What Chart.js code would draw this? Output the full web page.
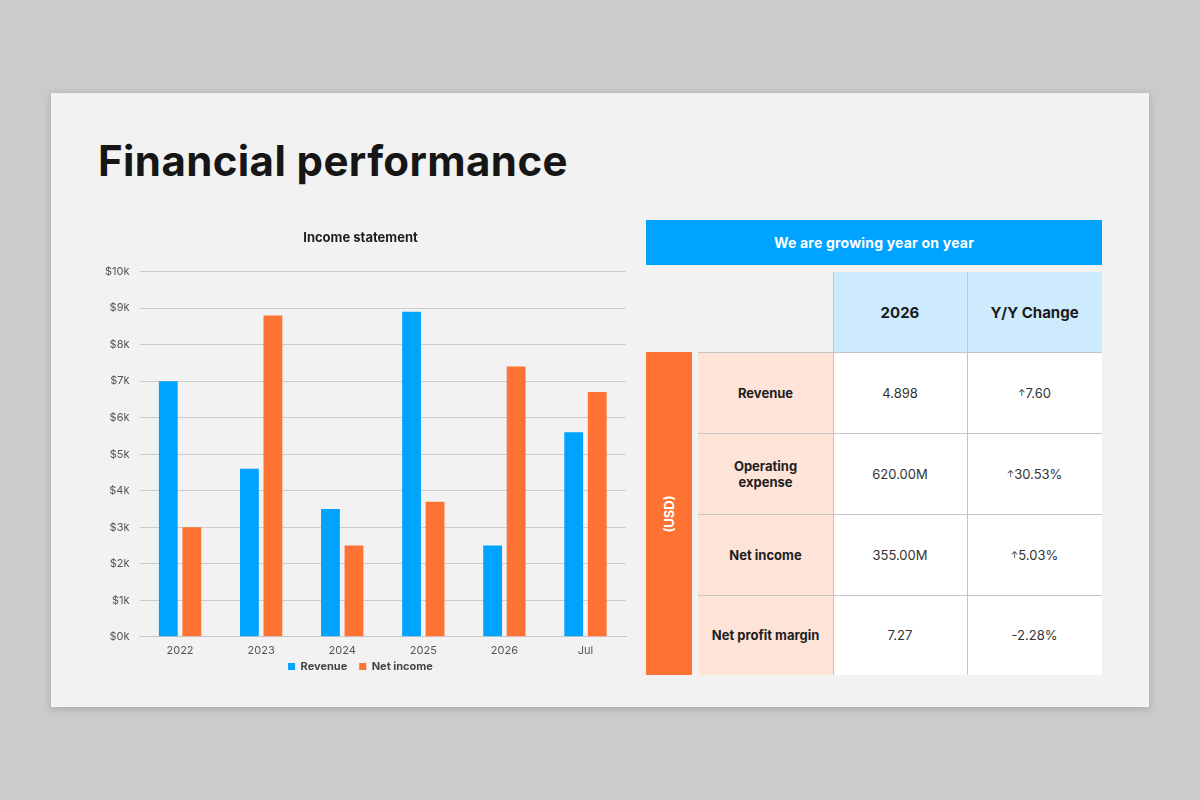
<!DOCTYPE html>
<html>
<head>
<meta charset="utf-8">
<script src="https://cdn.jsdelivr.net/npm/chart.js@4.4.1/dist/chart.umd.min.js"></script>
<style>
  body { margin: 0; width: 1200px; height: 800px; background: #cbcbcb; font-family: Inter, "Open Sans", sans-serif; overflow: hidden; }
  .slide { position: absolute; left: 51px; top: 93px; width: 1098px; height: 614px; background: #f2f2f2; box-shadow: 0 2px 8px rgba(0,0,0,0.18); }
  .title { position: absolute; left: 98px; top: 135px; font-size: 42px; font-weight: 700; color: #161616; letter-spacing: 0.4px; }
  .chartbox { position: absolute; left: 95px; top: 222px; width: 545px; height: 467px; }
  .banner { position: absolute; left: 646px; top: 220px; width: 456px; height: 45px; background: #00a3fe; color: #fff; font-weight: 700; font-size: 14px; letter-spacing: 0.2px; display: flex; align-items: center; justify-content: center; }
  .cell { position: absolute; display: flex; align-items: center; justify-content: center; text-align: center; font-size: 13px; color: #333; box-sizing: border-box; }
  .hd { background: #cdebfd; font-weight: 700; font-size: 15px; color: #1a1a1a; }
  .lbl { background: #fde3d8; font-weight: 700; color: #1e1e1e; }
  .val { background: #ffffff; }
  .usd { position: absolute; left: 646px; top: 352px; width: 46px; height: 323px; background: #fe7233; }
  .usd span { position: absolute; left: 50%; top: 50%; transform: translate(-50%,-50%) rotate(-90deg); color: #fff; font-weight: 700; font-size: 13px; white-space: nowrap; }
  .vline { position: absolute; width: 1px; background: #c4c4c4; }
  .hline { position: absolute; height: 1px; background: #c4c4c4; }
  .up { font-size: 9px; }
</style>
</head>
<body>
<div class="slide"></div>
<div class="title">Financial performance</div>
<div class="chartbox"><canvas id="c"></canvas></div>
<div class="banner">We are growing year on year</div>
<div class="usd"><span>(USD)</span></div>
<div id="table"></div>
<script>
const categories = ['2022', '2023', '2024', '2025', '2026', 'Jul'];
const revenue = [7000, 4600, 3500, 8900, 2500, 5600];
const netIncome = [3000, 8800, 2500, 3700, 7400, 6700];

const tableHeaders = ['2026', 'Y/Y Change'];
const rowLabels = ['Revenue', 'Operating<br>expense', 'Net income', 'Net profit margin'];
const values2026 = ['4.898', '620.00M', '355.00M', '7.27'];
const yyChange = ['<span class="up">↑</span>7.60', '<span class="up">↑</span>30.53%', '<span class="up">↑</span> 5.03%', '-2.28%'];

// table
const t = document.getElementById('table');
const colX = [698, 833, 967, 1102];
const rowY = [272, 352, 433, 514, 595, 675];
function cell(cls, x, y, w, h, html) {
  const d = document.createElement('div');
  d.className = 'cell ' + cls;
  d.style.left = x + 'px'; d.style.top = y + 'px';
  d.style.width = w + 'px'; d.style.height = h + 'px';
  d.innerHTML = html;
  t.appendChild(d);
}
tableHeaders.forEach((h, i) => cell('hd', colX[i + 1], rowY[0], colX[i + 2] - colX[i + 1], rowY[1] - rowY[0], h));
rowLabels.forEach((lab, r) => {
  const y = rowY[r + 1], h = rowY[r + 2] - rowY[r + 1];
  cell('lbl', colX[0], y, colX[1] - colX[0], h, lab);
  cell('val', colX[1], y, colX[2] - colX[1], h, values2026[r]);
  cell('val', colX[2], y, colX[3] - colX[2], h, yyChange[r]);
});
[833, 967].forEach(x => {
  const l = document.createElement('div'); l.className = 'vline';
  l.style.left = x + 'px'; l.style.top = '272px'; l.style.height = '403px'; t.appendChild(l);
});
[352, 433, 514, 595].forEach(y => {
  const l = document.createElement('div'); l.className = 'hline';
  l.style.left = '698px'; l.style.top = y + 'px'; l.style.width = '404px'; t.appendChild(l);
});

// pull the legend a bit closer to the axis labels
const legendLift = {
  id: 'legendLift',
  afterLayout(chart) {
    const l = chart.legend;
    if (l) { l.top -= 7; l.bottom -= 7; }
  }
};

// chart
Chart.defaults.font.family = 'Inter, "Open Sans", sans-serif';
new Chart(document.getElementById('c'), {
  type: 'bar',
  data: {
    labels: categories,
    datasets: [
      { label: 'Revenue', data: revenue, backgroundColor: '#00a3fe' },
      { label: 'Net income', data: netIncome, backgroundColor: '#fe7233' }
    ]
  },
  plugins: [legendLift],
  options: {
    responsive: true,
    maintainAspectRatio: false,
    animation: false,
    datasets: { bar: { categoryPercentage: 0.58, barPercentage: 0.8 } },
    layout: { padding: { left: 0, right: 14, top: 0, bottom: 0 } },
    plugins: {
      title: { display: true, text: 'Income statement', color: '#1e1e1e', font: { size: 13, weight: 'bold' }, padding: { top: 8, bottom: 26 } },
      legend: { position: 'bottom', labels: { boxWidth: 7, boxHeight: 7, color: '#444', font: { size: 11, weight: 'bold' }, padding: 12 } },
      tooltip: { enabled: false }
    },
    scales: {
      x: {
        grid: { display: false, drawTicks: false, tickLength: 0 },
        border: { color: '#c8c8c8' },
        ticks: { color: '#555', font: { size: 11 }, padding: 7 },
        afterFit: scale => { scale.height -= 8; }
      },
      y: {
        min: 0, max: 10000,
        ticks: { stepSize: 1000, color: '#555', font: { size: 11 }, padding: 10, callback: v => '$' + (v / 1000) + 'k' },
        grid: { color: '#cccccc', drawTicks: false },
        border: { display: false }
      }
    }
  }
});
</script>
</body>
</html>
